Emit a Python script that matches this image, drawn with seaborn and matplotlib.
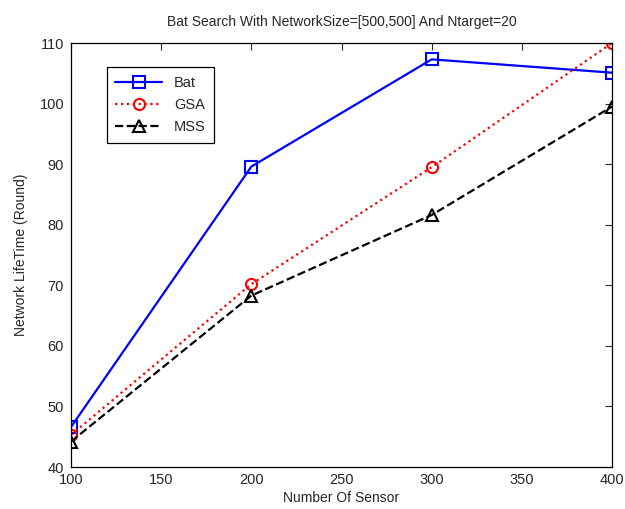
import matplotlib
matplotlib.use("Agg")
import matplotlib.pyplot as plt
import seaborn as sns
import pandas as pd

# values
sensors = [100, 200, 300, 400]
bat = [46.6, 89.6, 107.3, 105.1]
gsa = [45.3, 70.2, 89.5, 110.0]
mss = [44.2, 68.3, 81.6, 99.5]

sns.set_style("white")
plt.rcParams['font.family'] = ['Liberation Sans', 'DejaVu Sans']

df = pd.DataFrame({"sensors": sensors * 3,
                   "life": bat + gsa + mss,
                   "alg": ["Bat"] * 4 + ["GSA"] * 4 + ["MSS"] * 4})

fig = plt.figure(figsize=(6.25, 5.09), dpi=100)
ax = fig.add_axes([0.1136, 0.0825, 0.8656, 0.833])

styles = {
    "Bat": dict(color="#0000ff", marker="s", linestyle="-"),
    "GSA": dict(color="#ff0000", marker="o", linestyle=":"),
    "MSS": dict(color="#000000", marker="^", linestyle="--"),
}
for name, st in styles.items():
    sub = df[df["alg"] == name]
    sns.lineplot(data=sub, x="sensors", y="life", ax=ax, label=name,
                 color=st["color"], marker=st["marker"], linestyle=st["linestyle"],
                 linewidth=1.6, markersize=8, markerfacecolor="none",
                 markeredgecolor=st["color"], markeredgewidth=1.5)

ax.set_xlim(100, 400)
ax.set_ylim(40, 110)
ax.set_xticks(range(100, 401, 50))
ax.set_yticks(range(40, 111, 10))
ax.tick_params(direction="in", top=True, right=True, labelsize=10.5, length=5, width=0.8)
ax.tick_params(axis="y", pad=5)
ax.tick_params(axis="x", pad=4)
for sp in ax.spines.values():
    sp.set_color("black")
    sp.set_linewidth(0.9)

ax.set_xlabel("Number Of Sensor", fontsize=10, labelpad=3)
ax.set_ylabel("Network LifeTime (Round)", fontsize=10, labelpad=8)
ax.set_title("Bat Search With NetworkSize=[500,500] And Ntarget=20", fontsize=10, pad=12)

leg = ax.legend(loc="upper left", bbox_to_anchor=(0.066, 0.943), borderaxespad=0,
                fontsize=10.5, fancybox=False, edgecolor="black", framealpha=1,
                handlelength=3.2, borderpad=0.6, labelspacing=0.55)
leg.get_frame().set_linewidth(0.9)

fig.savefig("out.png", dpi=100)
